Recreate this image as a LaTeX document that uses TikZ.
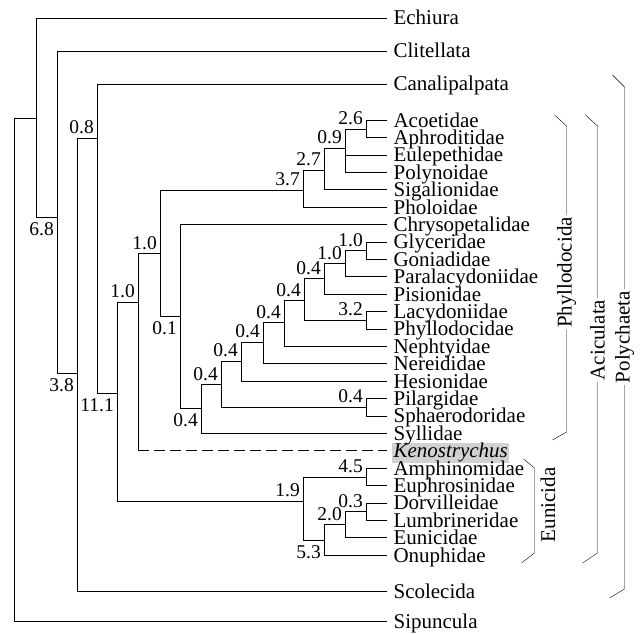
\documentclass[tikz,border=0pt]{standalone}
\usepackage{fontspec}
\setmainfont{Liberation Serif}
\newcommand\leaffont{\fontsize{21pt}{21pt}\selectfont}
\newcommand\valfont{\fontsize{19.5pt}{19.5pt}\selectfont}
\pgfdeclarelayer{bg}
\pgfsetlayers{bg,main}
\begin{document}
\begin{tikzpicture}[x=1pt, y=-1pt, line width=1.15pt,
  leaf/.style={anchor=west, inner xsep=1pt, inner ysep=0pt, text height=14pt, text depth=0pt, font=\leaffont},
  tip/.style={shorten >=5pt},
  kendash/.style={dash pattern=on 10.5pt off 5.5pt},
  val/.style={inner sep=0pt, font=\valfont},
  valup/.style={val, anchor=south east, xshift=-3pt, yshift=4pt},
  valdn/.style={val, anchor=north east, xshift=-3pt, yshift=-5pt},
  clade/.style={rotate=90, inner xsep=1.5pt, inner ysep=0pt, font=\leaffont}]
\useasboundingbox (0,0) rectangle (643,634);

% terminal taxa
\node[leaf] (ech) at (392,18) {Echiura};
\node[leaf] (cli) at (392,51) {Clitellata};
\node[leaf] (can) at (392,84) {Canalipalpata};
\node[leaf] (aco) at (392,120) {Acoetidae};
\node[leaf] (aph) at (392,137.4) {Aphroditidae};
\node[leaf] (eul) at (392,154.8) {Eulepethidae};
\node[leaf] (pol) at (392,172.2) {Polynoidae};
\node[leaf] (sig) at (392,189.6) {Sigalionidae};
\node[leaf] (pho) at (392,207) {Pholoidae};
\node[leaf] (chr) at (392,224.4) {Chrysopetalidae};
\node[leaf] (gly) at (392,241.8) {Glyceridae};
\node[leaf] (gon) at (392,259.2) {Goniadidae};
\node[leaf] (par) at (392,276.6) {Paralacydoniidae};
\node[leaf] (pis) at (392,294) {Pisionidae};
\node[leaf] (lac) at (392,311.4) {Lacydoniidae};
\node[leaf] (phy) at (392,328.8) {Phyllodocidae};
\node[leaf] (nep) at (392,346.2) {Nephtyidae};
\node[leaf] (ner) at (392,363.6) {Nereididae};
\node[leaf] (hes) at (392,381) {Hesionidae};
\node[leaf] (pil) at (392,398.4) {Pilargidae};
\node[leaf] (sph) at (392,415.8) {Sphaerodoridae};
\node[leaf] (syl) at (392,433.2) {Syllidae};
\node[leaf, font=\leaffont\itshape] (ken) at (392,450.6) {Kenostrychus};
\node[leaf] (amp) at (392,468) {Amphinomidae};
\node[leaf] (eup) at (392,485.4) {Euphrosinidae};
\node[leaf] (dor) at (392,502.8) {Dorvilleidae};
\node[leaf] (lum) at (392,520.2) {Lumbrineridae};
\node[leaf] (eun) at (392,537.6) {Eunicidae};
\node[leaf] (onu) at (392,555) {Onuphidae};
\node[leaf] (sco) at (392,591) {Scolecida};
\node[leaf] (sip) at (392,621) {Sipuncula};

\begin{pgfonlayer}{bg}
  \fill[black!18] ([yshift=0.5pt]ken.north west) rectangle ([yshift=-5pt]ken.south east);
\end{pgfonlayer}

% internal nodes (x of the split, y of the stem)
\coordinate (r0) at (14,118);
\coordinate (n36) at (36,118);
\coordinate (n57) at (57,217);
\coordinate (n77) at (77,373);
\coordinate (n97) at (97,138);
\coordinate (n117) at (117,393);
\coordinate (n138) at (138,302);
\coordinate (n160) at (160,253.5);
\coordinate (n303) at (303,190);
\coordinate (n324a) at (324,170);
\coordinate (n345a) at (345,148);
\coordinate (n366a) at (366,128.7);
\coordinate (n180) at (180,316.5);
\coordinate (n201) at (201,408.6);
\coordinate (n221) at (221,384.5);
\coordinate (n366p) at (366,407.1);
\coordinate (n241) at (241,361);
\coordinate (n263) at (263,341.8);
\coordinate (n284) at (284,322.6);
\coordinate (n304) at (304,300.5);
\coordinate (n366l) at (366,320.1);
\coordinate (n324b) at (324,278.5);
\coordinate (n345b) at (345,263.5);
\coordinate (n366g) at (366,250.5);
\coordinate (n303e) at (303,501);
\coordinate (n366m) at (366,476.7);
\coordinate (n324e) at (324,540);
\coordinate (n345e) at (345,524.5);
\coordinate (n366d) at (366,511.5);

% branches
\draw (r0) |- (n36);
\draw[tip] (r0) |- (sip.west);
\draw[tip] (n36) |- (ech.west);
\draw (n36) |- (n57);
\draw[tip] (n57) |- (cli.west);
\draw (n57) |- (n77);
\draw (n77) |- (n97);
\draw[tip] (n77) |- (sco.west);
\draw[tip] (n97) |- (can.west);
\draw (n97) |- (n117);
\draw (n117) |- (n138);
\draw (n117) |- (n303e);
\draw (n138) |- (n160);
\coordinate (kb) at (n138 |- ken.west);
\draw (n138) -- (kb);
\draw[tip, kendash] (kb) -- (ken.west);
\draw (n160) |- (n303);
\draw (n160) |- (n180);
\draw (n303) |- (n324a);
\draw[tip] (n303) |- (pho.west);
\draw (n324a) |- (n345a);
\draw[tip] (n324a) |- (sig.west);
\draw (n345a) |- (n366a);
\draw[tip] (n345a) |- (eul.west);
\draw[tip] (n345a) |- (pol.west);
\draw[tip] (n366a) |- (aco.west);
\draw[tip] (n366a) |- (aph.west);
\draw[tip] (n180) |- (chr.west);
\draw (n180) |- (n201);
\draw (n201) |- (n221);
\draw[tip] (n201) |- (syl.west);
\draw (n221) |- (n241);
\draw (n221) |- (n366p);
\draw[tip] (n366p) |- (pil.west);
\draw[tip] (n366p) |- (sph.west);
\draw (n241) |- (n263);
\draw[tip] (n241) |- (hes.west);
\draw (n263) |- (n284);
\draw[tip] (n263) |- (ner.west);
\draw (n284) |- (n304);
\draw[tip] (n284) |- (nep.west);
\draw (n304) |- (n324b);
\draw (n304) |- (n366l);
\draw[tip] (n366l) |- (lac.west);
\draw[tip] (n366l) |- (phy.west);
\draw (n324b) |- (n345b);
\draw[tip] (n324b) |- (pis.west);
\draw (n345b) |- (n366g);
\draw[tip] (n345b) |- (par.west);
\draw[tip] (n366g) |- (gly.west);
\draw[tip] (n366g) |- (gon.west);
\draw (n303e) |- (n366m);
\draw (n303e) |- (n324e);
\draw[tip] (n366m) |- (amp.west);
\draw[tip] (n366m) |- (eup.west);
\draw (n324e) |- (n345e);
\draw[tip] (n324e) |- (onu.west);
\draw (n345e) |- (n366d);
\draw[tip] (n345e) |- (eun.west);
\draw[tip] (n366d) |- (dor.west);
\draw[tip] (n366d) |- (lum.west);

% support values
\node[valup] (s1) at (n366a) {2.6};
\node[valup] (s2) at (n345a) {0.9};
\node[valup] (s3) at (n324a) {2.7};
\node[valup] (s4) at (n303) {3.7};
\node[valup] (s5) at (n366g) {1.0};
\node[valup] (s6) at (n345b) {1.0};
\node[valup] (s7) at (n324b) {0.4};
\node[valup] (s8) at (n304) {0.4};
\node[valup] (s9) at (n366l) {3.2};
\node[valup] (s10) at (n284) {0.4};
\node[valup] (s11) at (n263) {0.4};
\node[valup] (s12) at (n241) {0.4};
\node[valup] (s13) at (n221) {0.4};
\node[valup] (s14) at (n366p) {0.4};
\node[valup] (s15) at (n160) {1.0};
\node[valup] (s16) at (n138) {1.0};
\node[valup] (s17) at (n97) {0.8};
\node[valup] (s18) at (n366m) {4.5};
\node[valup] (s19) at (n303e) {1.9};
\node[valup] (s20) at (n366d) {0.3};
\node[valup] (s21) at (n345e) {2.0};
\node[valdn] (s22) at (n180) {0.1};
\node[valdn] (s23) at (n201) {0.4};
\node[valdn] (s24) at (n117) {11.1};
\node[valdn] (s25) at (n77) {3.8};
\node[valdn] (s26) at (n57) {6.8};
\node[valdn] (s27) at (n324e) {5.3};

% clade brackets
\node[clade] (phyl) at (566.5,272.5) {Phyllodocida};
\coordinate (pa) at (554.5,115);
\coordinate (pb) at (566.5,126);
\coordinate (pc) at (566.5,432);
\coordinate (pd) at (552.5,440);
\draw (pa) -- (pb) -- (phyl.east);
\draw (phyl.west) -- (pc) -- (pd);

\node[clade] (acic) at (597.5,340) {Aciculata};
\coordinate (aa) at (585.5,115);
\coordinate (ab) at (597.5,126);
\coordinate (ac) at (597.5,553);
\coordinate (ad) at (582.5,563);
\draw (aa) -- (ab) -- (acic.east);
\draw (acic.west) -- (ac) -- (ad);

\node[clade] (poly) at (624.5,337) {Polychaeta};
\coordinate (qa) at (612.5,75);
\coordinate (qb) at (624.5,87);
\coordinate (qc) at (624.5,589);
\coordinate (qd) at (609.5,598);
\draw (qa) -- (qb) -- (poly.east);
\draw (poly.west) -- (qc) -- (qd);

\node[clade] (euni) at (548,505) {Eunicida};
\coordinate (ea) at (523.5,459);
\coordinate (eb) at (534.5,468);
\coordinate (ec) at (534.5,553);
\coordinate (ed) at (521.5,563);
\draw (ea) -- (eb) -- (ec) -- (ed);
\end{tikzpicture}
\end{document}
